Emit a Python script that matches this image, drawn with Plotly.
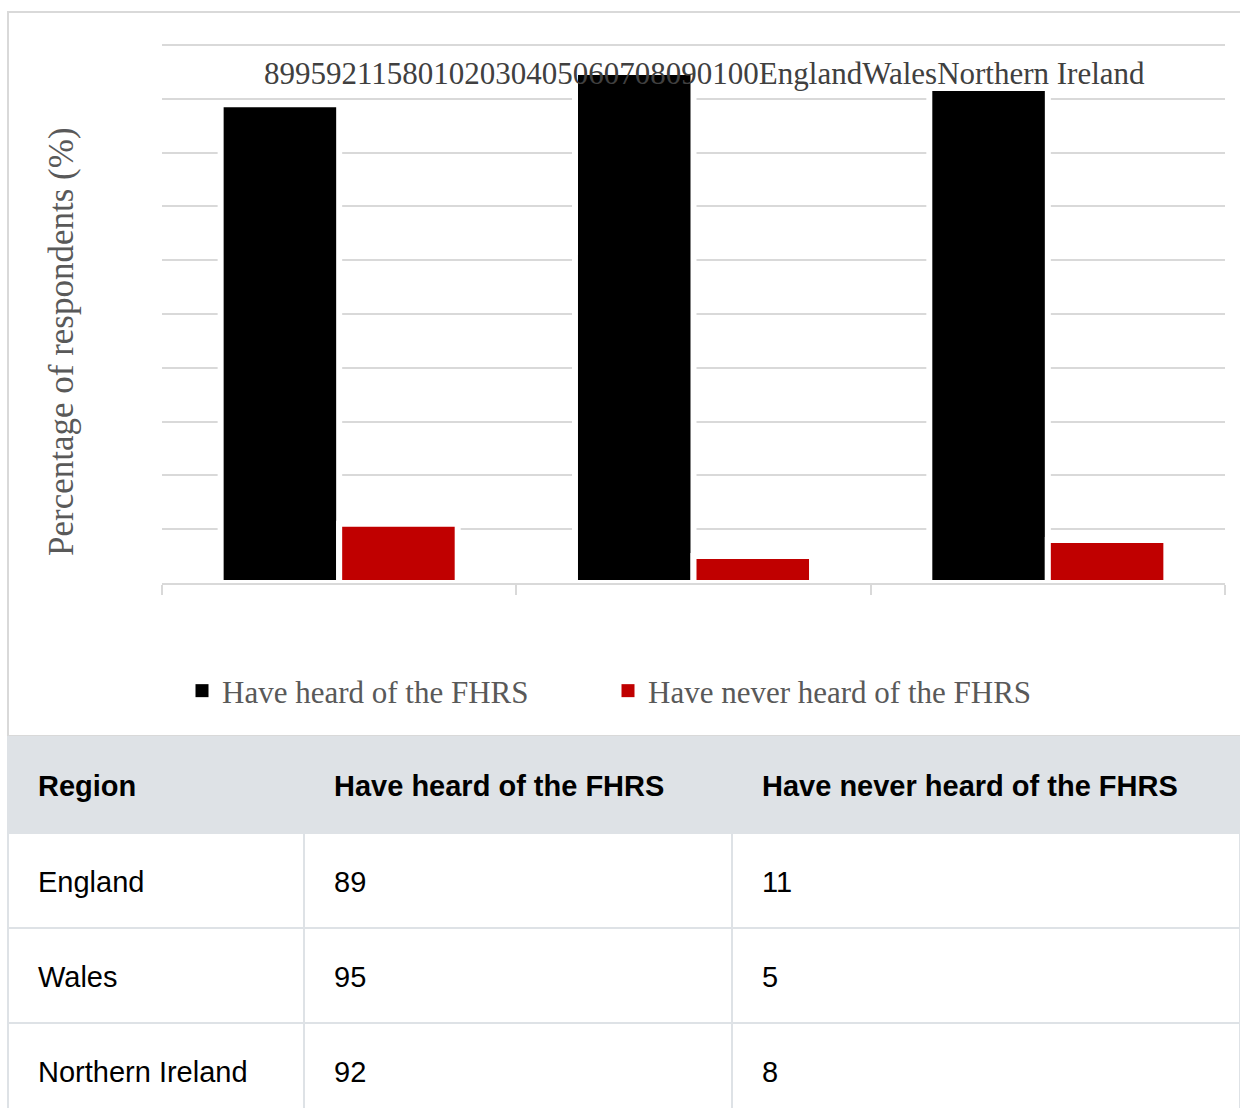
import plotly.graph_objects as go

# ---- data -------------------------------------------------------------
regions = ["England", "Wales", "Northern Ireland"]
heard = [89, 95, 92]
never_heard = [11, 5, 8]
y_ticks = [0, 10, 20, 30, 40, 50, 60, 70, 80, 90, 100]
series_names = ["Have heard of the FHRS", "Have never heard of the FHRS"]
series_colors = ["#000000", "#c00000"]
table_header = ["Region", "Have heard of the FHRS", "Have never heard of the FHRS"]
y_title = "Percentage of respondents (%)"

# ---- page geometry (pixels -> paper fractions) -------------------------
W, H = 1240, 1108


def px(x):
    return x / W


def py(y):
    return (H - y) / H


SERIF = "Liberation Serif, Times New Roman, serif"
SANS = "Liberation Sans, Arial, sans-serif"
GRID = "#d9d9d9"
TABLE_LINE = "#dee2e6"
Y_MAX = 100.3  # a hair above 100 so the top gridline is drawn

fig = go.Figure()

# ---- grouped bars ------------------------------------------------------
for name, values, color in zip(series_names, [heard, never_heard], series_colors):
    fig.add_trace(go.Bar(
        x=regions, y=values, name=name, showlegend=False,
        marker=dict(color=color, line=dict(color="#ffffff", width=6)),
        xaxis="x", yaxis="y",
    ))

# legend keys: plain filled squares
for name, color in zip(series_names, series_colors):
    fig.add_trace(go.Scatter(
        x=[None], y=[None], name=name, mode="markers",
        marker=dict(symbol="square", size=13, color=color,
                    line=dict(color=color, width=0)),
        xaxis="x", yaxis="y", showlegend=True,
    ))

# run-together label string (values, ticks and categories)
run_on = "".join(str(v) for v in heard + never_heard + y_ticks) + "".join(regions)
fig.add_annotation(
    text=run_on, xref="paper", yref="paper", x=px(704.5), y=py(73),
    xanchor="center", yanchor="middle", showarrow=False,
    font=dict(family=SERIF, size=31, color="#404040"),
)

# y-axis title
fig.add_annotation(
    text=y_title, xref="paper", yref="paper", x=px(62), y=py(342),
    xanchor="center", yanchor="middle", textangle=-90, showarrow=False,
    font=dict(family=SERIF, size=35, color="#595959"),
)

# ---- data table ---------------------------------------------------------
cell_values = [regions, heard, never_heard]

# grid: backgrounds and borders
fig.add_trace(go.Table(
    domain=dict(x=[px(8), 1], y=[0, py(737)]),
    columnwidth=[296, 428, 508],
    header=dict(
        values=table_header, height=96, fill_color=TABLE_LINE,
        line=dict(color=TABLE_LINE, width=2),
        font=dict(family=SANS, size=29, color="rgba(0,0,0,0)"),
    ),
    cells=dict(
        values=cell_values, height=95, fill_color="#ffffff",
        line=dict(color=TABLE_LINE, width=2),
        font=dict(family=SANS, size=29, color="rgba(0,0,0,0)"),
    ),
))

# text layer, offset so the labels sit centred in each cell
fig.add_trace(go.Table(
    domain=dict(x=[px(30), 1], y=[0, py(762)]),
    columnwidth=[296, 428, 486],
    header=dict(
        values=["<b>%s</b>" % h for h in table_header], height=100,
        fill_color="rgba(0,0,0,0)", line=dict(color="rgba(0,0,0,0)", width=0),
        font=dict(family=SANS, size=29, color="#000000"), align="left",
    ),
    cells=dict(
        values=cell_values, height=95,
        fill_color="rgba(0,0,0,0)", line=dict(color="rgba(0,0,0,0)", width=0),
        font=dict(family=SANS, size=29, color="#000000"), align="left",
    ),
))

# chart container border
fig.add_shape(
    type="rect", xref="paper", yref="paper",
    x0=px(8), x1=1.02, y0=py(736), y1=py(12),
    line=dict(color=GRID, width=2), layer="below",
)

y_top_px = 583 - (583 - 45) * Y_MAX / 100

fig.update_layout(
    width=W, height=H,
    margin=dict(l=0, r=0, t=0, b=0),
    paper_bgcolor="#ffffff", plot_bgcolor="#ffffff",
    barmode="group", bargap=0.331, bargroupgap=0,
    showlegend=True,
    legend=dict(
        orientation="h", x=px(182), xanchor="left", y=py(691), yanchor="middle",
        font=dict(family=SERIF, size=31, color="#595959"),
        entrywidth=381, entrywidthmode="pixels",
        bgcolor="rgba(0,0,0,0)",
    ),
    xaxis=dict(
        domain=[px(162), px(1225)], showline=True, linecolor=GRID, linewidth=2,
        ticks="outside", tickson="boundaries", ticklen=10, tickcolor=GRID,
        tickwidth=2, showticklabels=False, showgrid=False, zeroline=False,
        anchor="y",
    ),
    yaxis=dict(
        domain=[py(583), py(y_top_px)], range=[0, Y_MAX], tickvals=y_ticks,
        showticklabels=False, showgrid=True, gridcolor=GRID, gridwidth=2,
        zeroline=False, showline=False, ticks="", anchor="x",
    ),
)

fig.write_html("out.html")
